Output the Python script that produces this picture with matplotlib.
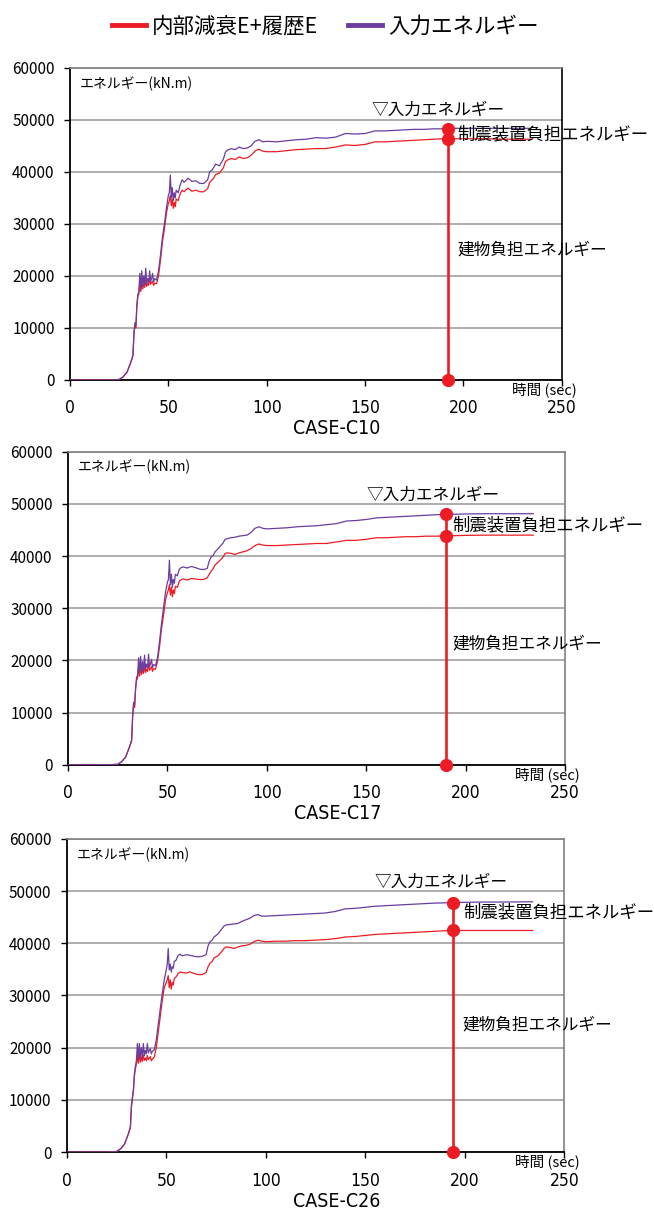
import matplotlib
matplotlib.use('Agg')
import matplotlib.pyplot as plt
from matplotlib import font_manager
from matplotlib.lines import Line2D

plt.rcParams['font.family'] = ['Noto Sans CJK JP', 'DejaVu Sans']

# narrow face for the time ticks and case titles
narrow = font_manager.FontProperties(family='DejaVu Sans', stretch='condensed')

RED = '#ed1c24'
PURPLE = '#6a3d9f'

cases = ['CASE-C10', 'CASE-C17', 'CASE-C26']

# time axis shared by the two series of every case (sec)
t = [0, 20, 25, 27, 29, 30, 31, 32, 32.5, 33, 33.5, 34, 34.5, 35, 35.5, 36, 36.5, 37,
     37.5, 38, 38.5, 39, 39.5, 40, 40.5, 41, 41.5, 42, 42.5, 43, 44, 45, 46, 47, 48, 49,
     50, 50.5, 51, 51.5, 52, 52.5, 53, 53.5, 54, 55, 56, 57, 58, 60, 62, 64, 66, 68, 70,
     71, 72, 73, 74, 76, 78, 79, 80, 82, 84, 86, 88, 90, 92, 94, 96, 98, 100, 105, 110,
     115, 120, 125, 130, 135, 140, 145, 150, 155, 160, 165, 170, 175, 180, 185, 190, 195,
     200, 210, 220, 234]

# input energy (kN.m)
input_c10 = [0, 0, 100, 600, 1500, 2500, 3500, 4800, 9000, 11000, 10500, 14500, 16500, 17000,
             20500, 17500, 21000, 18000, 20000, 18200, 21500, 18500, 19500, 18800, 21000, 19000,
             19500, 20500, 18800, 19500, 19200, 21000, 24000, 27500, 30000, 33000, 35500, 36000,
             39400, 35000, 37000, 34500, 36000, 35000, 36500, 36000, 37500, 38500, 38000, 38800,
             38200, 38300, 37800, 37800, 38500, 40000, 40300, 40800, 41500, 41200, 42500, 43800,
             44200, 44500, 44300, 44800, 44500, 44600, 45000, 45900, 46200, 45800, 45900, 45800,
             46000, 46200, 46300, 46600, 46500, 46700, 47400, 47300, 47400, 47900, 47900, 48000,
             48100, 48200, 48200, 48300, 48300, 48400, 48400, 48400, 48400, 48400]
input_c17 = [0, 0, 100, 600, 1500, 2500, 3500, 4800, 9500, 12000, 11500, 15000, 16800, 17200,
             20500, 17500, 20800, 17800, 19800, 18000, 21000, 18300, 19300, 18600, 21200, 18800,
             19400, 20200, 18600, 19200, 19000, 20500, 23500, 27000, 30000, 33000, 35000, 35500,
             39200, 34500, 36500, 34000, 35500, 34800, 36500, 36200, 37500, 37800, 37900, 37700,
             38000, 37800, 37500, 37400, 37600, 39000, 39800, 40100, 40800, 41600, 42500, 43200,
             43300, 43500, 43600, 43800, 43900, 44000, 44500, 45300, 45600, 45300, 45200, 45300,
             45400, 45600, 45700, 45800, 46000, 46200, 46700, 46800, 47000, 47300, 47400, 47500,
             47600, 47700, 47800, 47900, 48000, 48000, 48050, 48100, 48100, 48100]
input_c26 = [0, 0, 100, 600, 1500, 2500, 3500, 4900, 9000, 10600, 12000, 15000, 16400, 17500,
             20800, 17800, 20800, 18000, 20000, 18200, 20800, 18500, 19500, 18800, 20800, 19000,
             19500, 19800, 18800, 19300, 19600, 21500, 24500, 27500, 30400, 33000, 34900, 36000,
             39000, 34900, 36000, 34500, 35500, 35200, 36500, 36800, 37700, 37900, 37600, 37800,
             37700, 37500, 37400, 37500, 37800, 39500, 40300, 40600, 41200, 41800, 42800, 43300,
             43500, 43600, 43700, 43800, 44200, 44500, 44800, 45300, 45500, 45200, 45200, 45300,
             45400, 45500, 45600, 45700, 45800, 46100, 46600, 46700, 46900, 47100, 47200, 47300,
             47400, 47500, 47600, 47700, 47750, 47800, 47850, 47900, 47900, 47950]

# internal damping + hysteretic energy (kN.m)
damp_c10 = [0, 0, 100, 600, 1500, 2500, 3500, 4600, 8500, 10500, 10000, 14000, 16000, 16500,
            18500, 17000, 19000, 17500, 18500, 17800, 19200, 18000, 18600, 18200, 19500, 18400,
            18800, 19000, 18200, 18600, 18500, 20000, 23000, 26500, 29000, 32000, 34000, 34500,
            35500, 33500, 34800, 33000, 34200, 33300, 34800, 34500, 35800, 36500, 36200, 36900,
            36300, 36500, 36200, 36200, 36800, 38000, 38400, 38800, 39500, 39800, 40800, 42000,
            42300, 42600, 42400, 42900, 42600, 42700, 43200, 44000, 44400, 44000, 43900, 43900,
            44100, 44300, 44400, 44500, 44500, 44800, 45200, 45100, 45300, 45800, 45800, 45900,
            46000, 46100, 46200, 46300, 46400, 46400, 46400, 46400, 46300, 46300]
damp_c17 = [0, 0, 100, 600, 1500, 2500, 3500, 4600, 9000, 11500, 11000, 14500, 16200, 16600,
            18500, 17000, 19000, 17300, 18300, 17500, 19000, 17700, 18300, 17900, 19300, 18100,
            18500, 18800, 17900, 18400, 18300, 19800, 22500, 26000, 28500, 31500, 33000, 33500,
            34500, 32500, 34000, 32200, 33500, 32800, 34200, 34000, 35200, 35500, 35600, 35400,
            35700, 35600, 35500, 35500, 35800, 36500, 37100, 37600, 38300, 39000, 39800, 40500,
            40600, 40500, 40300, 40600, 40800, 41000, 41400, 42000, 42300, 42100, 42000, 42000,
            42100, 42200, 42300, 42400, 42400, 42700, 43000, 43000, 43200, 43500, 43500, 43600,
            43700, 43700, 43800, 43800, 43850, 43900, 43950, 44000, 44000, 44000]
damp_c26 = [0, 0, 100, 600, 1500, 2500, 3500, 4700, 8500, 10200, 11500, 14500, 16000, 16800,
            18500, 17000, 18800, 17200, 18200, 17400, 18600, 17600, 18000, 17500, 18500, 17700,
            18000, 18300, 17500, 17800, 18200, 20000, 23000, 26000, 29000, 31500, 32500, 33000,
            33800, 31500, 33000, 31200, 32500, 32000, 33200, 33600, 34200, 34500, 34400, 34300,
            34500, 34200, 34000, 34000, 34400, 35500, 36200, 36500, 37200, 37600, 38500, 39000,
            39300, 39200, 39000, 39300, 39500, 39600, 39800, 40300, 40600, 40400, 40300, 40400,
            40400, 40500, 40500, 40600, 40700, 40900, 41200, 41300, 41500, 41700, 41800, 41900,
            42000, 42100, 42200, 42300, 42400, 42450, 42450, 42450, 42450, 42450]

inputs = [input_c10, input_c17, input_c26]
damps = [damp_c10, damp_c17, damp_c26]

# time of the marker line and the energies read there
mark_t = [192, 190, 194]
mark_input = [48350, 48000, 47800]
mark_damp = [46400, 43850, 42450]

# label anchors (time, energy)
lbl_input = [(187, 51900), (183.5, 51700), (188, 51700)]
lbl_device = [(197, 47300), (193.5, 45950), (199, 45950)]
lbl_building = [(197, 25000), (193.5, 23200), (199, 24300)]

# axes boxes in figure fraction: left, bottom, width, height
boxes = [(0.107, 0.687, 0.752, 0.257),
         (0.104, 0.370, 0.760, 0.258),
         (0.102, 0.051, 0.761, 0.258)]
right_spine = ['black', '#808080', '#808080']

fig = plt.figure(figsize=(6.54, 12.14), dpi=100)

for i in range(3):
    ax = fig.add_axes(boxes[i])
    ax.plot(t, damps[i], color=RED, lw=0.9, zorder=3)
    ax.plot(t, inputs[i], color=PURPLE, lw=0.9, zorder=3)

    ax.plot([mark_t[i], mark_t[i]], [0, mark_input[i]], color=RED, lw=1.9, zorder=4)
    ax.plot([mark_t[i]] * 3, [0, mark_damp[i], mark_input[i]], 'o', color=RED,
            ms=8.5, zorder=5, clip_on=False)

    ax.text(lbl_input[i][0], lbl_input[i][1], '▽入力エネルギー', fontsize=12,
            ha='center', va='center')
    ax.text(lbl_device[i][0], lbl_device[i][1], '制震装置負担エネルギー', fontsize=12.5,
            ha='left', va='center')
    ax.text(lbl_building[i][0], lbl_building[i][1], '建物負担エネルギー', fontsize=12,
            ha='left', va='center')

    ax.set_xlim(0, 250)
    ax.set_ylim(0, 60000)
    ax.set_xticks([0, 50, 100, 150, 200, 250])
    ax.set_yticks(range(0, 60001, 10000))
    ax.grid(axis='y', color='#a0a0a0', lw=1.2)
    ax.set_axisbelow(True)

    ax.spines['left'].set_linewidth(1.3)
    ax.spines['bottom'].set_linewidth(1.3)
    ax.spines['top'].set_color('#808080')
    ax.spines['top'].set_linewidth(1.2)
    ax.spines['right'].set_color(right_spine[i])
    ax.spines['right'].set_linewidth(1.2)

    ax.tick_params(axis='y', length=4, width=1, pad=7, labelsize=11)
    ax.tick_params(axis='x', length=4, width=1, pad=10)
    for lab in ax.get_xticklabels():
        lab.set_fontproperties(narrow)
        lab.set_fontsize(12.5)

    ax.text(0.02, 0.95, 'エネルギー(kN.m)', transform=ax.transAxes, fontsize=10,
            ha='left', va='center')
    ax.text(1.03, -0.032, '時間 (sec)', transform=ax.transAxes, fontsize=10.5,
            ha='right', va='center')
    title = ax.text(0.543, -0.157, cases[i], transform=ax.transAxes,
                    ha='center', va='center')
    title.set_fontproperties(narrow)
    title.set_fontsize(14)

handles = [Line2D([], [], color=RED, lw=3.5), Line2D([], [], color=PURPLE, lw=3.5)]
fig.legend(handles, ['内部減衰E+履歴E', '入力エネルギー'], loc='upper center',
           bbox_to_anchor=(0.497, 1.003), ncol=2, frameon=False, fontsize=15.5,
           handlelength=1.6, handletextpad=0.25, columnspacing=1.4)

fig.savefig('out.png', dpi=100)
